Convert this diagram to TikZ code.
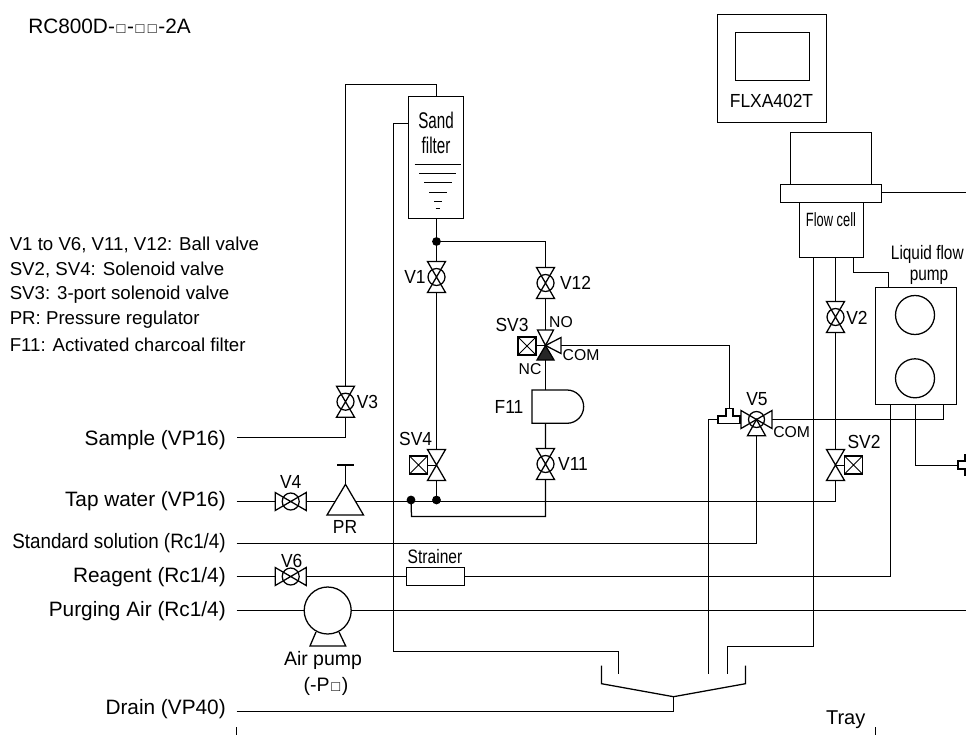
\documentclass[tikz,border=0pt]{standalone}
\usepackage{fontspec}
\setmainfont{Liberation Sans}
\newcommand{\fsz}[1]{\fontsize{#1pt}{#1pt}\selectfont}
\newcommand{\nar}[2]{\scalebox{#1}[1]{#2}}
\newcommand{\lb}[1]{\scalebox{.92}[1]{#1}}
\newcommand{\sq}{\kern1.25pt{\fsz{11}□}\kern1.25pt}
\tikzset{
  pipe/.style={line width=.95pt,line join=miter},
  part/.style={line width=.95pt,draw,fill=white},
  lbl/.style={inner sep=0pt,font=\fsz{14.2}},
  inlet/.style={inner sep=0pt,anchor=east,font=\fsz{15.6}},
  listtxt/.style={inner sep=0pt,anchor=west,font=\fsz{14}},
  port/.style={inner sep=0pt,font=\fsz{11.8}},
  vv/.style={inner sep=0pt,minimum width=13.5pt,minimum height=23.25pt},
  hv/.style={inner sep=0pt,minimum width=23.25pt,minimum height=13.5pt},
}
% vertical ball valve
\newcommand{\vvalve}[3]{%
  \node[vv] (#1) at (#2,#3) {};
  \begin{scope}[shift={(#2,#3)}]
    \draw[part] (-9,-15.5)--(9,-15.5)--(-9,15.5)--(9,15.5)--cycle;
    \draw[part,fill=none] (0,0) circle[radius=8.5];
  \end{scope}}
% horizontal ball valve
\newcommand{\hvalve}[3]{%
  \node[hv] (#1) at (#2,#3) {};
  \begin{scope}[shift={(#2,#3)}]
    \draw[part] (-15.5,-9)--(-15.5,9)--(15.5,-9)--(15.5,9)--cycle;
    \draw[part,fill=none] (0,0) circle[radius=8.5];
  \end{scope}}
% vertical solenoid valve, box on a given side (+1 right, -1 left)
\newcommand{\svalve}[4]{%
  \node[vv] (#1) at (#2,#3) {};
  \begin{scope}[shift={(#2,#3)}]
    \draw[part] (-9,-15.5)--(9,-15.5)--(-9,15.5)--(9,15.5)--cycle;
    \draw[line width=.7pt] (0,0)--(#4*9,0);
    \draw[part] (#4*9,-9) rectangle (#4*27,9);
    \draw[line width=.6pt] (#4*9,-9)--(#4*27,9) (#4*9,9)--(#4*27,-9);
  \end{scope}}
\begin{document}
\begin{tikzpicture}[x=.75pt,y=-.75pt]
\useasboundingbox (0,0) rectangle (966,735);
\fill[white] (0,0) rectangle (966,735);

% ---- named anchors
\coordinate (inS) at (236.5,437.5);
\coordinate (inT) at (236.5,501.5);
\coordinate (inStd) at (236.5,543.5);
\coordinate (inR) at (236.5,576.5);
\coordinate (inP) at (236.5,610.5);
\coordinate (inD) at (236.5,711.5);
\coordinate (edgeT) at (966,192.5);
\coordinate (edgeP) at (966,610.5);
\coordinate (trayC) at (673.5,696.7);

% ---- main components
\node[part,inner sep=0pt,minimum width=41.25pt,minimum height=91.5pt] (sand) at (436,157.5) {};
\node[part,inner sep=0pt,minimum width=81.75pt,minimum height=81pt] (flxa) at (772,68.5) {};
\node[part,inner sep=0pt,minimum width=55.5pt,minimum height=36pt] (screen) at (772.5,56.5) {};
\node[part,inner sep=0pt,minimum width=60.75pt,minimum height=39pt] (cellhead) at (831,158.5) {};
\node[part,inner sep=0pt,minimum width=75.75pt,minimum height=13.5pt] (flange) at (831,193.5) {};
\node[part,inner sep=0pt,minimum width=48pt,minimum height=41.25pt] (cell) at (831.5,230) {};

% junctions
\coordinate (j1) at (436.5,241.5);
\coordinate (j2) at (436.5,500);
\coordinate (j3) at (411,500);

% ---- pipes
\draw[pipe] (436.5,96) -- (436.5,84.5) -- (345.5,84.5) -- (345.5,437.5) -- (inS);
\draw[pipe] (408.5,123.5) -- (393.5,123.5) -- (393.5,651.5) -- (618.5,651.5) -- (618.5,674);
\draw[pipe] (436.5,218) -- (j1) -- (436.5,449);
\draw[pipe] (j1) -- (545.5,241.5) -- (545.5,390);
\draw[pipe] (436.5,480) -- (j2);
\draw[pipe] (j3) -- (411.5,516.5) -- (545.5,516.5) -- (545.5,423);
\draw[pipe] (inT) -- (835.5,501.5) -- (835.5,257);
\draw[pipe] (813.5,257) -- (813.5,646.5) -- (727.5,646.5) -- (727.5,674);
\draw[pipe] (853.5,257) -- (853.5,272.5) -- (888.5,272.5) -- (888.5,287);
\draw[pipe] (flange.east |- edgeT) -- (edgeT);
\draw[pipe] (545.5,345.5) -- (729.5,345.5) -- (729.5,409);
\draw[pipe] (718,419.5) -- (708.5,419.5) -- (708.5,674);
\draw[pipe] (740,419.5) -- (943.5,419.5) -- (943.5,404);
\draw[pipe] (inStd) -- (756.5,543.5) -- (756.5,419.5);
\draw[pipe] (inR) -- (890.5,576.5) -- (890.5,404);
\draw[pipe] (915.5,404) -- (915.5,465.5) -- (958,465.5);
\draw[pipe] (inP) -- (edgeP);
\draw[pipe] (inD) -- (673.5,711.5) -- (trayC);
\draw[pipe] (601.5,665.7) -- (601.5,683.7) -- (trayC) -- (745.5,683.7) -- (745.5,665.7);
\draw[pipe] (236.5,727) -- (236.5,735);
\draw[pipe] (875.5,727) -- (875.5,735);

% parts that sit on pipes
\node[part,inner sep=0pt,minimum width=43.5pt,minimum height=13.5pt] (strainer) at (435.5,576.5) {};
\node[part,inner sep=0pt,minimum width=60.75pt,minimum height=87.75pt] (lfp) at (916,346) {};
\node[draw,line width=.95pt,circle,inner sep=0pt,minimum size=29.25pt] (lfp1) at (915,315) {};
\node[draw,line width=.95pt,circle,inner sep=0pt,minimum size=29.25pt] (lfp2) at (915,378.3) {};

% sand filter level marks
\draw[pipe] (414.7,164.5)--(460.7,164.5) (419,173.5)--(456,173.5) (424,182.5)--(451.5,182.5)
            (429,192.5)--(447,192.5) (434,201.5)--(442,201.5) (435.5,208.5)--(439.5,208.5);

% junction dots
\fill (j1) circle[radius=4.4];
\fill (j2) circle[radius=4.4];
\fill (j3) circle[radius=4.4];

% valves
\vvalve{v1}{436.5}{277}
\vvalve{v12}{545.5}{283}
\vvalve{v3}{345.5}{401.7}
\vvalve{v11}{545.5}{464}
\vvalve{v2}{835.5}{317}
\svalve{sv4}{436.5}{465}{-1}
\svalve{sv2}{835.5}{465}{1}
\hvalve{v4}{290.7}{501.5}
\hvalve{v6}{290.7}{576.5}

% SV3 three-port valve
\node[inner sep=0pt,minimum size=23pt] (sv3) at (545.5,345.5) {};
\draw[part] (545.5,345.5)--(537.5,330)--(553.5,330)--cycle;
\draw[part] (545.5,345.5)--(561,337.5)--(561,353.5)--cycle;
\draw[line width=.95pt,fill=black!85] (545.5,345.5)--(537,360)--(554,360)--cycle;
\draw[line width=.7pt] (545.5,345.5)--(536,345.5);
\draw[part] (518,337) rectangle (536,355);
\draw[line width=.6pt] (518,337)--(536,355) (518,355)--(536,337);

% V5 three-port valve
\node[inner sep=0pt,minimum size=23pt] (v5) at (756.5,419.5) {};
\draw[part] (756.5,419.5)--(741,410.5)--(741,428.5)--cycle;
\draw[part] (756.5,419.5)--(772,410.5)--(772,428.5)--cycle;
\draw[part] (756.5,419.5)--(747.5,435.7)--(765.5,435.7)--cycle;
\draw[part,fill=none] (756.5,419.5) circle[radius=8];

% T fitting at V5
\draw[part] (718,416)--(726,416)--(726,408.7)--(733,408.7)--(733,416)--(740,416)--(740,423.3)--(718,423.3)--cycle;

% fitting at right edge
\draw[pipe] (965,454)--(965,461)--(958,461)--(958,469)--(965,469)--(965,476);

% F11
\node[inner sep=0pt,minimum width=39pt,minimum height=25pt] (f11) at (558,406.7) {};
\draw[part] (567,390) -- (532,390) -- (532,423.3) -- (567,423.3) arc[start angle=90,end angle=-90,radius=16.65] -- cycle;

% PR
\draw[pipe] (337,465)--(354,465) (345.5,465)--(345.5,484.3);
\draw[part] (345.5,484.3)--(327,515)--(363.5,515)--cycle;

% air pump
\draw[part] (316,632)--(310,646)--(345.7,646)--(339,632);
\node[draw,fill=white,line width=.95pt,circle,inner sep=0pt,minimum size=35.25pt] (apump) at (327.7,610.5) {};

% ---- texts
\node[inner sep=0pt,anchor=west,font=\fsz{15.6}] (model) at (28,26) {RC800D-\sq-\sq\sq-2A};
\node[listtxt] (l1) at (9.5,245) {V1 to V6, V11, V12: Ball valve};
\node[listtxt] (l2) at (9.5,270) {SV2, SV4: Solenoid valve};
\node[listtxt] (l3) at (9.5,295) {SV3: 3-port solenoid valve};
\node[listtxt] (l4) at (9.5,319.5) {PR: Pressure regulator};
\node[listtxt] (l5) at (9.5,344.5) {F11: Activated charcoal filter};

\node[inlet] (tS) at (226,440.5) {Sample (VP16)};
\node[inlet] (tT) at (226,501) {Tap water (VP16)};
\node[inlet] (tStd) at (226,543) {\scalebox{.905}[1]{Standard solution (Rc1/4)}};
\node[inlet] (tR) at (226,577.5) {Reagent (Rc1/4)};
\node[inlet] (tP) at (226,611) {Purging Air (Rc1/4)};
\node[inlet] (tD) at (226,709) {Drain (VP40)};

\node[lbl] (tV1) at (415,277) {\lb{V1}};
\node[lbl] (tV12) at (575.5,283) {\lb{V12}};
\node[lbl] (tV3) at (367.5,402) {\lb{V3}};
\node[lbl] (tV11) at (573,464) {\lb{V11}};
\node[lbl] (tV2) at (857,318) {\lb{V2}};
\node[lbl] (tV4) at (290.7,482) {\lb{V4}};
\node[lbl] (tV6) at (291.7,561) {\lb{V6}};
\node[lbl] (tV5) at (757,399) {\lb{V5}};
\node[lbl] (tSV3) at (512,325) {\lb{SV3}};
\node[lbl] (tSV4) at (415.7,438.5) {\lb{SV4}};
\node[lbl] (tSV2) at (864,441.7) {\lb{SV2}};
\node[lbl] (tF11) at (509,407) {\lb{F11}};
\node[lbl] (tPR) at (345,527) {\lb{PR}};
\node[port] (tNO) at (561,322) {NO};
\node[port] (tNC) at (530,369) {NC};
\node[port] (tCOM1) at (581,355) {COM};
\node[port] (tCOM2) at (791.7,431.7) {COM};

\node[lbl] (tF) at (771.5,100.5) {\lb{FLXA402T}};
\node[inner sep=0pt,font=\fsz{17}] (tSand) at (436,120) {\nar{.67}{Sand}};
\node[inner sep=0pt,font=\fsz{17}] (tFilter) at (436,145) {\nar{.67}{filter}};
\node[inner sep=0pt,font=\fsz{14.4}] (tFlow) at (831,220) {\nar{.67}{Flow cell}};
\node[inner sep=0pt,font=\fsz{14.6}] (tLiq) at (927.3,254) {\nar{.79}{Liquid flow}};
\node[inner sep=0pt,font=\fsz{14.6}] (tPump) at (929,277) {\nar{.79}{pump}};
\node[inner sep=0pt,font=\fsz{14.6}] (tStr) at (435,556.5) {\nar{.8}{Strainer}};
\node[inner sep=0pt,font=\fsz{14.6}] (tAir) at (323,660) {Air pump};
\node[inner sep=0pt,font=\fsz{14.6}] (tAir2) at (326,686) {(-P\sq)};
\node[inner sep=0pt,font=\fsz{15}] (tTray) at (845.7,720) {Tray};
\end{tikzpicture}
\end{document}
